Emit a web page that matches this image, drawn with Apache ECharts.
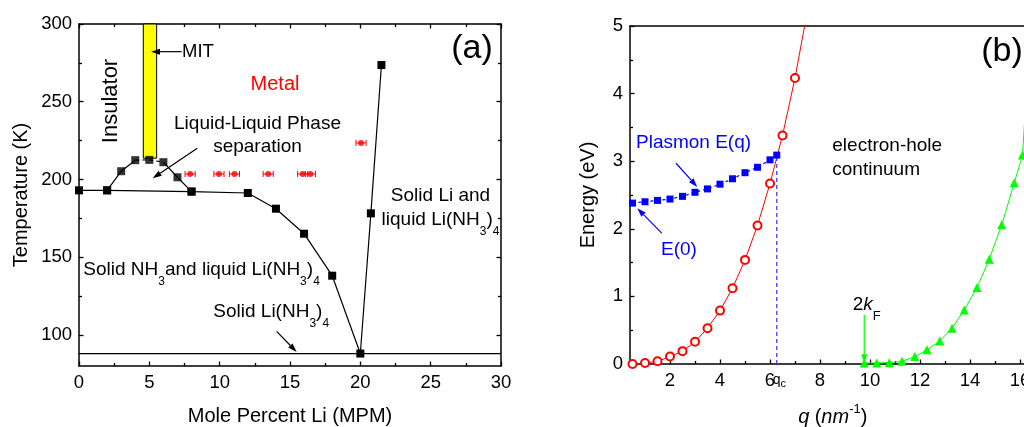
<!DOCTYPE html>
<html>
<head>
<meta charset="utf-8">
<script src="https://cdn.jsdelivr.net/npm/echarts@6/dist/echarts.min.js"></script>
<style>
  html, body { margin: 0; padding: 0; background: #fff; }
  #chart { width: 1024px; height: 427px; }
</style>
</head>
<body>
<div id="chart"></div>
<script>
const FONT = '"Liberation Sans", Arial, Helvetica, sans-serif';

// ---- (a) Li–NH3 phase diagram ----
const boundaryMpm  = [0, 2, 8, 12, 14, 16, 18, 20, 20.75, 21.5];
const boundaryTemp = [193, 193, 192.2, 191.3, 181.2, 165.1, 138.1, 88, 178.2, 273.6];
const domeMpm  = [2, 3, 4, 5, 6, 7, 8];
const domeTemp = [193, 205.3, 212.4, 212.6, 211.1, 201.4, 192.2];
const eutecticMpm  = [0, 30];
const eutecticTemp = [88, 88];
const metalMpm  = [7.9, 9.95, 11.05, 13.45, 15.9, 16.45, 20.05];
const metalTemp = [203.5, 203.5, 203.5, 203.5, 203.5, 203.5, 223.5];
const metalErr  = [0.36, 0.36, 0.36, 0.36, 0.36, 0.36, 0.36];
const mitMpm  = [4.57, 5.52];
const mitTemp = [213.7, 300];
const mpmTicks  = [0, 5, 10, 15, 20, 25, 30];
const mpmMinor  = [2.5, 7.5, 12.5, 17.5, 22.5, 27.5];
const tempTicks = [100, 150, 200, 250, 300];
const tempMinor = [125, 175, 225, 275];

// ---- (b) plasmon dispersion and electron-hole continuum ----
const plasmonQ = [0.5, 1, 1.5, 2, 2.5, 3, 3.5, 4, 4.5, 5, 5.5, 6, 6.27];
const plasmonE = [2.38, 2.40, 2.42, 2.44, 2.48, 2.54, 2.59, 2.66, 2.74, 2.83, 2.91, 3.02, 3.09];
const leftEdgeQ = [0.5, 1, 1.5, 2, 2.5, 3, 3.5, 4, 4.5, 5, 5.5, 6, 6.5, 7, 7.5];
const leftEdgeE = [0, 0.015, 0.04, 0.11, 0.19, 0.33, 0.53, 0.79, 1.12, 1.54, 2.05, 2.67, 3.38, 4.23, 5.23];
const rightEdgeQ = [9.77, 10.27, 10.77, 11.28, 11.79, 12.28, 12.79, 13.28, 13.77, 14.28, 14.77, 15.27, 15.77, 16.1, 16.35];
const rightEdgeE = [0.015, 0.015, 0.02, 0.04, 0.11, 0.21, 0.34, 0.53, 0.80, 1.13, 1.55, 2.06, 2.68, 3.09, 4.6];
const qc = 6.27;
const twoKF = 9.77;
const qTicks = [2, 4, 6, 8, 10, 12, 14, 16];
const qMinor = [1, 3, 5, 7, 9, 11, 13, 15];
const eTicks = [0, 1, 2, 3, 4, 5];
const eMinor = [0.5, 1.5, 2.5, 3.5, 4.5];

const zip = (a, b) => a.map((v, i) => [v, b[i]]);

function axis(gridIndex, position, min, max, ticks, tickLen, withLine, labels) {
  return {
    type: 'value', gridIndex, position, min, max,
    axisLine: { show: withLine, onZero: false, lineStyle: { color: '#000', width: 1.5 } },
    axisTick: ticks
      ? { show: true, inside: true, length: tickLen, customValues: ticks,
          lineStyle: { color: '#000', width: 1.3 } }
      : { show: false },
    axisLabel: labels
      ? { show: true, customValues: labels, color: '#000', fontSize: 18.5, fontFamily: FONT, margin: 7 }
      : { show: false },
    splitLine: { show: false },
    axisPointer: { show: false }
  };
}

// panel (b) runs past the right edge of the page; its q range is cut at the border
const Q_MIN = 0.4, Q_MAX = 16.16;

const xAxes = [
  axis(0, 'bottom', 0, 30, mpmTicks, 4.5, true, mpmTicks),
  axis(0, 'bottom', 0, 30, mpmMinor, 3, false),
  axis(0, 'top', 0, 30, mpmTicks, 4.5, true),
  axis(0, 'top', 0, 30, mpmMinor, 3, false),
  axis(1, 'bottom', Q_MIN, Q_MAX, qTicks, 4.5, true, qTicks),
  axis(1, 'bottom', Q_MIN, Q_MAX, qMinor, 3, false),
  axis(1, 'top', Q_MIN, Q_MAX, null, 0, true)
];
const yAxes = [
  axis(0, 'left', 80, 300, tempTicks, 4.5, true, tempTicks),
  axis(0, 'left', 80, 300, tempMinor, 3, false),
  axis(0, 'right', 80, 300, tempTicks, 4.5, true),
  axis(0, 'right', 80, 300, tempMinor, 3, false),
  axis(1, 'left', 0, 5, eTicks, 4.5, true, eTicks),
  axis(1, 'left', 0, 5, eMinor, 3, false)
];

const A = { xAxisIndex: 0, yAxisIndex: 0 };
const B = { xAxisIndex: 4, yAxisIndex: 4 };
const dome = zip(domeMpm, domeTemp);

const series = [
  // yellow metal–insulator transition band
  Object.assign({
    type: 'custom', z: 3, silent: true,
    data: [[mitMpm[0], mitMpm[1], mitTemp[0], mitTemp[1]]],
    encode: { x: [0, 1], y: [2, 3] },
    renderItem(params, api) {
      const p0 = api.coord([api.value(0), api.value(3)]);
      const p1 = api.coord([api.value(1), api.value(2)]);
      return { type: 'rect', shape: { x: p0[0], y: p0[1], width: p1[0] - p0[0], height: p1[1] - p0[1] },
               style: { fill: '#ffff00', stroke: '#000', lineWidth: 1 } };
    }
  }, A),
  Object.assign({
    type: 'line', data: zip(eutecticMpm, eutecticTemp), symbol: 'none',
    lineStyle: { color: '#000', width: 1.2 }, silent: true, z: 2
  }, A),
  Object.assign({
    type: 'line', data: zip(boundaryMpm, boundaryTemp), symbol: 'rect', symbolSize: 8,
    itemStyle: { color: '#000' }, lineStyle: { color: '#000', width: 1.2 }, silent: true, z: 4
  }, A),
  Object.assign({
    type: 'line', data: dome.slice(0, 3), symbol: 'none',
    lineStyle: { color: '#000', width: 1.2 }, silent: true, z: 2
  }, A),
  Object.assign({
    type: 'line', data: dome.slice(2, 5), symbol: 'none',
    lineStyle: { color: '#000', width: 1.2, type: [4, 3] }, silent: true, z: 2
  }, A),
  Object.assign({
    type: 'line', data: dome.slice(4), symbol: 'none',
    lineStyle: { color: '#000', width: 1.2 }, silent: true, z: 2
  }, A),
  Object.assign({
    type: 'scatter', data: dome, symbol: 'rect', symbolSize: 8,
    itemStyle: { color: '#000' }, silent: true, z: 4
  }, A),
  // metallic samples with composition error bars
  Object.assign({
    type: 'custom', z: 4, silent: true,
    data: metalMpm.map((m, i) => [m, metalTemp[i], metalErr[i]]),
    encode: { x: 0, y: 1 },
    renderItem(params, api) {
      const x = api.value(0), y = api.value(1), e = api.value(2);
      const l = api.coord([x - e, y]), r = api.coord([x + e, y]);
      const st = { stroke: '#ff0000', lineWidth: 1 };
      const cap = 3;
      return { type: 'group', children: [
        { type: 'line', shape: { x1: l[0], y1: l[1], x2: r[0], y2: r[1] }, style: st },
        { type: 'line', shape: { x1: l[0], y1: l[1] - cap, x2: l[0], y2: l[1] + cap }, style: st },
        { type: 'line', shape: { x1: r[0], y1: r[1] - cap, x2: r[0], y2: r[1] + cap }, style: st }
      ] };
    }
  }, A),
  Object.assign({
    type: 'scatter', data: zip(metalMpm, metalTemp), symbol: 'circle', symbolSize: 6,
    itemStyle: { color: '#ff0000' }, silent: true, z: 5
  }, A),

  // panel (b)
  Object.assign({
    type: 'line', data: zip(leftEdgeQ, leftEdgeE), symbol: 'emptyCircle', symbolSize: 8,
    itemStyle: { color: '#ff0000', borderWidth: 1 }, lineStyle: { color: '#ff0000', width: 1 },
    clip: true, silent: true, z: 3
  }, B),
  Object.assign({
    type: 'line', data: zip(rightEdgeQ, rightEdgeE), symbol: 'triangle', symbolSize: 9,
    itemStyle: { color: '#00ff00' }, lineStyle: { color: '#00ff00', width: 1 },
    clip: true, silent: true, z: 3
  }, B),
  Object.assign({
    type: 'line', data: [[qc, 0], [qc, plasmonE[plasmonE.length - 1]]], symbol: 'none',
    lineStyle: { color: '#3333ff', width: 1.2, type: [4, 3] }, silent: true, z: 3
  }, B),
  Object.assign({
    type: 'line', data: zip(plasmonQ, plasmonE), symbol: 'rect', symbolSize: 7,
    itemStyle: { color: '#0000ff' }, lineStyle: { color: '#0000ff', width: 1.2, type: [3, 3] },
    clip: true, silent: true, z: 4
  }, B)
];

const chart = echarts.init(document.getElementById('chart'), null, { renderer: 'canvas' });
chart.setOption({
  animation: false,
  backgroundColor: '#fff',
  grid: [
    { left: 79, top: 24, width: 422, height: 342, containLabel: false, outerBoundsMode: 'none' },
    { left: 630, top: 26, width: 394, height: 338, containLabel: false, outerBoundsMode: 'none' }
  ],
  xAxis: xAxes,
  yAxis: yAxes,
  series
});

// ---- annotations ----
function txt(x, y, text, o) {
  o = o || {};
  const align = o.align || 'left';
  return {
    type: 'text', x, y, rotation: o.rotation || 0, z: 100, silent: true,
    style: {
      text, fontSize: o.size || 19, fontFamily: FONT, fill: o.color || '#000',
      fontStyle: o.italic ? 'italic' : 'normal',
      align, verticalAlign: 'middle', textAlign: align, textVerticalAlign: 'middle',
      rich: o.rich
    }
  };
}
// rich styles: n normal, i italic, s subscript, u superscript
function richSet(size, color, subSize, drop, rise) {
  return {
    n: { fontSize: size, fontFamily: FONT, fill: color },
    i: { fontSize: size, fontFamily: FONT, fill: color, fontStyle: 'italic' },
    s: { fontSize: subSize, fontFamily: FONT, fill: color, verticalAlign: 'bottom',
         height: subSize, lineHeight: 2 * drop + subSize },
    u: { fontSize: subSize, fontFamily: FONT, fill: color, verticalAlign: 'top',
         height: subSize, lineHeight: 2 * rise + subSize }
  };
}
function arrow(p0, p1, color) {
  const dx = p1[0] - p0[0], dy = p1[1] - p0[1], len = Math.hypot(dx, dy);
  const ux = dx / len, uy = dy / len, hl = 9, hw = 3;
  const bx = p1[0] - ux * hl, by = p1[1] - uy * hl;
  return [
    { type: 'line', z: 100, silent: true, shape: { x1: p0[0], y1: p0[1], x2: bx, y2: by },
      style: { stroke: color, lineWidth: 1.2 } },
    { type: 'polygon', z: 100, silent: true,
      shape: { points: [[p1[0], p1[1]], [bx - uy * hw, by + ux * hw], [bx + uy * hw, by - ux * hw]] },
      style: { fill: color } }
  ];
}
const pa = v => chart.convertToPixel({ xAxisIndex: 0, yAxisIndex: 0 }, v);
const pb = v => chart.convertToPixel({ xAxisIndex: 4, yAxisIndex: 4 }, v);

const subA = richSet(19, '#000', 12, 11.5, 0);
const graphics = [
  txt(21, 195, 'Temperature (K)', { size: 20, rotation: Math.PI / 2, align: 'center' }),
  txt(290, 416, 'Mole Percent Li (MPM)', { size: 20, align: 'center' }),
  txt(111, 101, 'Insulator', { size: 22, rotation: Math.PI / 2, align: 'center' }),
  txt(182, 51.7, 'MIT', { size: 18.5 }),
  txt(275, 84.5, 'Metal', { size: 20, color: '#ff0000', align: 'center' }),
  txt(472, 49, '(a)', { size: 34, align: 'center' }),
  txt(257.5, 123.3, 'Liquid-Liquid Phase', { size: 19, align: 'center' }),
  txt(257.5, 146.5, 'separation', { size: 19, align: 'center' }),
  txt(83.3, 270, '{n|Solid NH}{s|3}{n|and liquid Li(NH}{s|3}{n|)}{s|4}', { rich: subA }),
  txt(213.3, 311.7, '{n|Solid Li(NH}{s|3}{n|)}{s|4}', { rich: subA }),
  txt(440.5, 195.8, 'Solid Li and', { size: 19, align: 'center' }),
  txt(440.5, 220, '{n|liquid Li(NH}{s|3}{n|)}{s|4}', { rich: subA, align: 'center' }),

  txt(588, 195, 'Energy (eV)', { size: 20, rotation: Math.PI / 2, align: 'center' }),
  txt(798.3, 417, '{i|q} {n|(}{i|nm}{u|-1}{n|)}', { rich: richSet(20, '#000', 13, 0, 8) }),
  txt(636, 142.5, 'Plasmon E(q)', { size: 19, color: '#0000ff' }),
  txt(661, 249.3, 'E(0)', { size: 19, color: '#0000ff' }),
  txt(832.3, 145.5, 'electron-hole', { size: 19 }),
  txt(832.3, 169.5, 'continuum', { size: 19 }),
  txt(1002, 51.7, '(b)', { size: 34, align: 'center' }),
  txt(852.7, 305, '{n|2}{i|k}{s|F}', { rich: richSet(19, '#000', 13, 11.7, 0) }),
  txt(pb([qc, 0])[0] - 4, 380, '{n|q}{s|c}', { rich: richSet(14, '#000', 11, 4, 0) })
];

// arrows, anchored in data units
[
  [pa([7.30, 282.2]), pa([5.12, 282.2]), '#000'],
  [pa([8.41, 220.0]), pa([5.24, 200.7]), '#000'],
  [pa([14.05, 102.3]), pa([15.47, 89.0]), '#000'],
  [pb([2.24, 2.97]), pb([3.09, 2.62]), '#0000ff'],
  [pb([1.67, 1.935]), pb([0.69, 2.305]), '#0000ff'],
  [pb([twoKF, 0.727]), pb([twoKF, 0.01]), '#00ff00']
].forEach(a => graphics.push(...arrow(a[0], a[1], a[2])));

chart.setOption({ graphic: graphics });
</script>
</body>
</html>
